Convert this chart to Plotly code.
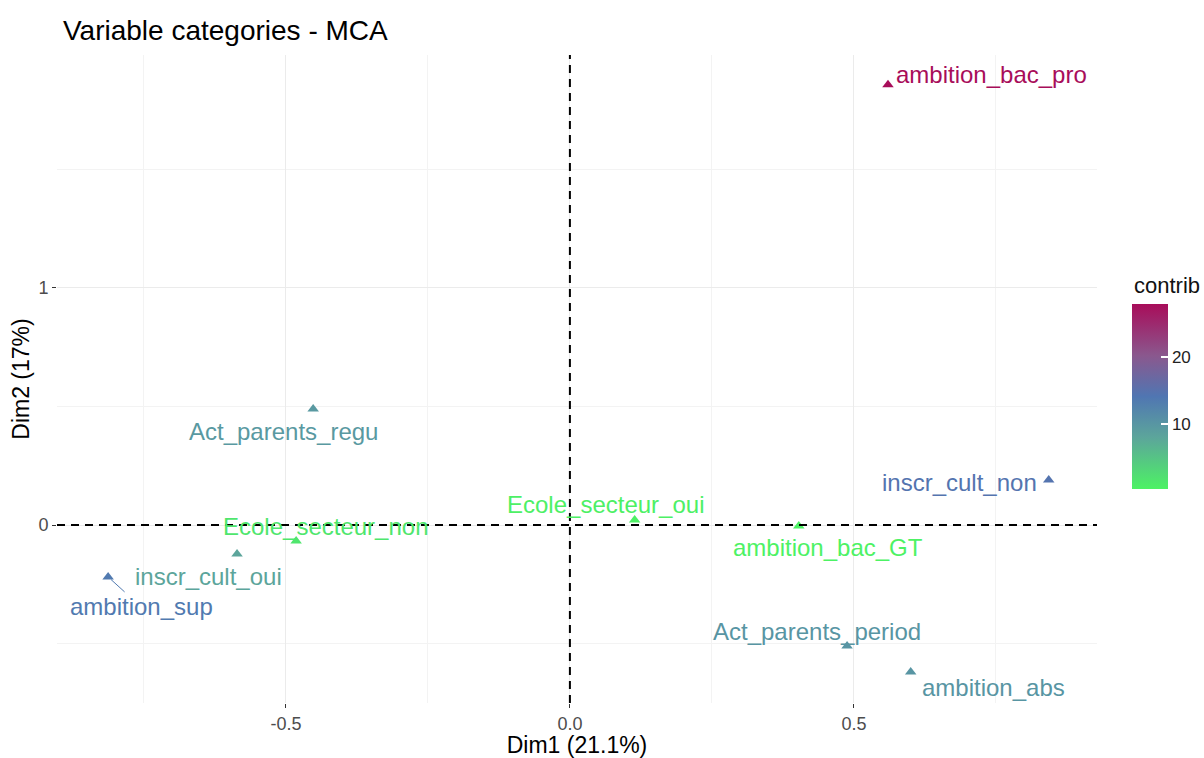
import plotly.graph_objects as go

categories = ["ambition_bac_pro", "Act_parents_regu", "inscr_cult_non", "Ecole_secteur_oui",
              "ambition_bac_GT", "Ecole_secteur_non", "inscr_cult_oui", "ambition_sup",
              "Act_parents_period", "ambition_abs"]
dim1 = [0.560, -0.452, 0.843, 0.114, 0.403, -0.482, -0.586, -0.813, 0.488, 0.600]
dim2 = [1.857, 0.489, 0.190, 0.021, -0.004, -0.068, -0.122, -0.219, -0.511, -0.620]
contrib = [27.8, 9.5, 14.5, 0.5, 0.3, 1.5, 8.0, 13.5, 10.0, 10.0]

x_ticks = [-0.5, 0.0, 0.5]
x_ticklabels = ["-0.5", "0.0", "0.5"]
y_ticks = [0, 1]
y_ticklabels = ["0", "1"]
cbar_ticks = [10, 20]

# label offsets in pixels (ggrepel-like placement)
label_dx = [104, -30, -89, -29, 29, 29, -29, 33, -30, 83]
label_dy = [-10, 22, 3, -16, 22, -15, 23, 30, -15, 16]
label_segment = [False, False, False, False, False, False, False, True, False, False]

cmin, cmax = 0.3, 27.8
scale = [(0.0, (77, 242, 100)), (0.28, (92, 165, 155)), (0.5, (80, 118, 178)),
         (0.72, (138, 88, 142)), (1.0, (168, 13, 90))]


def col_for(v):
    t = (v - cmin) / (cmax - cmin)
    t = min(max(t, 0), 1)
    for (p0, c0), (p1, c1) in zip(scale[:-1], scale[1:]):
        if t <= p1:
            f = (t - p0) / (p1 - p0)
            c = [round(a + (b - a) * f) for a, b in zip(c0, c1)]
            return "rgb(%d,%d,%d)" % tuple(c)
    return "rgb(%d,%d,%d)" % scale[-1][1]


colorscale = [[p, "rgb(%d,%d,%d)" % c] for p, c in scale]

FONT = "Liberation Sans, Arial, sans-serif"
W, H = 1204, 758

fig = go.Figure()
fig.add_trace(go.Scatter(
    x=dim1, y=dim2, mode="markers",
    marker=dict(symbol="triangle-up", size=10, color=contrib, colorscale=colorscale,
                cmin=cmin, cmax=cmax,
                colorbar=dict(xref="container", yref="container",
                              x=1132 / W, xanchor="left", xpad=0, ypad=0,
                              y=1 - 464 / H, yanchor="middle", len=185, lenmode="pixels",
                              thickness=36, outlinewidth=0,
                              tickvals=cbar_ticks, ticks="inside", tickcolor="white",
                              ticklen=7, tickwidth=1.5,
                              tickfont=dict(size=17, color="#222", family=FONT))),
    hoverinfo="text", text=categories, showlegend=False,
))

for name, x, y, c, dx, dy, seg in zip(categories, dim1, dim2, contrib, label_dx, label_dy, label_segment):
    colr = col_for(c)
    fig.add_annotation(x=x, y=y, text=name, showarrow=True, ax=dx, ay=dy,
                       arrowhead=0, arrowwidth=1 if seg else 0.1,
                       arrowcolor=colr if seg else "rgba(0,0,0,0)",
                       standoff=4 if seg else 0,
                       font=dict(size=24, color=colr, family=FONT))

fig.add_annotation(xref="paper", yref="paper", x=(1132 - 57) / 1040, y=(703 - 285) / 648,
                   xanchor="left", yanchor="middle", showarrow=False, text="contrib",
                   font=dict(size=22, color="#111", family=FONT))

fig.add_shape(type="line", xref="x", yref="paper", x0=0, x1=0, y0=0, y1=1,
              line=dict(color="black", width=2, dash="8px,6px"), layer="above")
fig.add_shape(type="line", xref="paper", yref="y", x0=0, x1=1, y0=0, y1=0,
              line=dict(color="black", width=2, dash="8px,6px"), layer="above")

fig.update_layout(
    width=W, height=H,
    margin=dict(l=57, r=107, t=55, b=55),
    paper_bgcolor="white", plot_bgcolor="white",
    font=dict(family=FONT),
    title=dict(text="Variable categories - MCA", x=63 / W, xref="container", xanchor="left",
               y=1 - 30 / H, yref="container", yanchor="middle",
               font=dict(size=28, color="black", family=FONT)),
    xaxis=dict(range=[-0.903, 0.928], tickvals=x_ticks, ticktext=x_ticklabels,
               showgrid=True, gridcolor="#EBEBEB", gridwidth=1.2, zeroline=False,
               ticks="outside", ticklen=4, tickcolor="#333", showline=False, automargin=False,
               tickfont=dict(size=18, color="#4D4D4D"),
               minor=dict(dtick=0.25, tick0=0, showgrid=True, gridcolor="#F3F3F3", gridwidth=1, ticks=""),
               title=dict(text="Dim1 (21.1%)", font=dict(size=23, color="black"), standoff=6)),
    yaxis=dict(range=[-0.751, 1.983], tickvals=y_ticks, ticktext=y_ticklabels,
               showgrid=True, gridcolor="#EBEBEB", gridwidth=1.2, zeroline=False,
               ticks="outside", ticklen=4, tickcolor="#333", showline=False, automargin=False,
               tickfont=dict(size=18, color="#4D4D4D"),
               minor=dict(dtick=0.5, tick0=0, showgrid=True, gridcolor="#F3F3F3", gridwidth=1, ticks=""),
               title=dict(text="Dim2 (17%)", font=dict(size=23, color="black"), standoff=2)),
)

fig.write_html("out.html")
